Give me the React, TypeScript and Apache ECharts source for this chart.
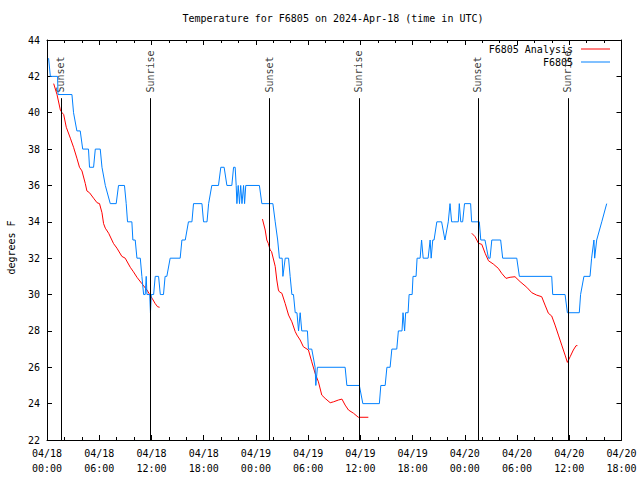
import React, { useEffect, useRef } from 'react';
import * as echarts from 'echarts';

const titleText = 'Temperature for F6805 on 2024-Apr-18 (time in UTC)';
const yAxisName = 'degrees F';
const analysisName = 'F6805 Analysis';
const obsName = 'F6805';
const xStart = '04-18 00:00';
const xEnd = '04-20 18:00';
const yMin = 22;
const yMax = 44;
const yStep = 2;

const sunNames = ['Sunset', 'Sunrise', 'Sunset', 'Sunrise', 'Sunset', 'Sunrise'];
const sunTimes = ['04-18 01:36', '04-18 11:54', '04-19 01:34', '04-19 11:54', '04-20 01:33', '04-20 11:53'];

const obsTimes = [
  '04-18 00:11', '04-18 00:23', '04-18 01:13', '04-18 01:16', '04-18 02:52', '04-18 03:03', '04-18 03:26', '04-18 03:49',
  '04-18 04:06', '04-18 04:46', '04-18 04:53', '04-18 05:21', '04-18 05:33', '04-18 06:07', '04-18 06:19', '04-18 06:42',
  '04-18 07:16', '04-18 07:57', '04-18 08:13', '04-18 08:54', '04-18 09:06', '04-18 09:15', '04-18 09:45', '04-18 09:52',
  '04-18 10:08', '04-18 10:20', '04-18 10:43', '04-18 10:54', '04-18 11:06', '04-18 11:17', '04-18 11:24', '04-18 11:29',
  '04-18 11:36', '04-18 11:48', '04-18 11:53', '04-18 11:59', '04-18 12:04', '04-18 12:15', '04-18 12:26', '04-18 12:49',
  '04-18 13:01', '04-18 13:12', '04-18 13:23', '04-18 13:34', '04-18 13:46', '04-18 14:09', '04-18 15:18', '04-18 15:30',
  '04-18 15:53', '04-18 16:15', '04-18 16:39', '04-18 16:50', '04-18 17:48', '04-18 17:59', '04-18 18:11', '04-18 18:23',
  '04-18 18:34', '04-18 18:56', '04-18 19:42', '04-18 19:58', '04-18 20:21', '04-18 20:40', '04-18 21:14', '04-18 21:26',
  '04-18 21:37', '04-18 21:44', '04-18 21:49', '04-18 21:58', '04-18 22:07', '04-18 22:15', '04-18 22:24', '04-18 22:35',
  '04-18 22:42', '04-18 22:50', '04-19 00:24', '04-19 00:41', '04-19 01:57', '04-19 02:13', '04-19 02:30', '04-19 02:42',
  '04-19 03:01', '04-19 03:06', '04-19 03:22', '04-19 03:45', '04-19 03:56', '04-19 04:08', '04-19 04:19', '04-19 04:31',
  '04-19 04:43', '04-19 04:54', '04-19 05:05', '04-19 05:16', '04-19 05:55', '04-19 06:02', '04-19 06:25', '04-19 06:48',
  '04-19 06:53', '04-19 07:04', '04-19 10:15', '04-19 10:27', '04-19 11:53', '04-19 12:17', '04-19 14:11', '04-19 14:21',
  '04-19 14:51', '04-19 15:03', '04-19 15:25', '04-19 15:37', '04-19 16:11', '04-19 16:22', '04-19 16:47', '04-19 16:54',
  '04-19 17:05', '04-19 17:12', '04-19 17:29', '04-19 17:36', '04-19 17:57', '04-19 18:03', '04-19 18:24', '04-19 18:31',
  '04-19 18:52', '04-19 19:02', '04-19 19:13', '04-19 19:47', '04-19 20:01', '04-19 20:08', '04-19 20:19', '04-19 20:28',
  '04-19 20:47', '04-19 21:20', '04-19 21:43', '04-19 22:06', '04-19 22:18', '04-19 22:29', '04-19 22:40', '04-19 23:15',
  '04-19 23:22', '04-19 23:32', '04-19 23:45', '04-19 23:58', '04-20 00:40', '04-20 00:47', '04-20 01:40', '04-20 01:50',
  '04-20 02:19', '04-20 02:43', '04-20 02:54', '04-20 03:06', '04-20 04:07', '04-20 04:21', '04-20 05:58', '04-20 06:16',
  '04-20 09:59', '04-20 10:06', '04-20 11:31', '04-20 11:47', '04-20 13:09', '04-20 13:18', '04-20 13:41', '04-20 14:23',
  '04-20 14:34', '04-20 14:50', '04-20 14:55', '04-20 15:09', '04-20 15:44', '04-20 16:18',
];
const obsValues = [
  43, 42, 42, 41, 41, 40, 39, 39,
  38, 38, 37, 37, 38, 38, 37, 36,
  35, 35, 36, 36, 35, 34, 34, 33,
  33, 32, 32, 31, 30, 30, 31, 30,
  30, 30, 29, 30, 30, 30, 31, 31,
  30, 30, 30, 31, 31, 32, 32, 33,
  33, 34, 34, 35, 35, 34, 34, 34,
  35, 36, 36, 37, 37, 36, 36, 37,
  37, 36, 35, 36, 35, 36, 35, 36,
  35, 36, 36, 35, 35, 34, 33, 32,
  32, 31, 32, 32, 31, 30, 30, 29,
  29, 28, 29, 28, 28, 27, 27, 26,
  25, 26, 26, 25, 25, 24, 24, 25,
  25, 26, 26, 27, 27, 28, 28, 29,
  28, 29, 29, 30, 30, 31, 31, 32,
  32, 33, 32, 32, 33, 32, 33, 33,
  34, 34, 33, 34, 35, 34, 34, 34,
  35, 34, 34, 35, 35, 34, 34, 33,
  33, 32, 32, 33, 33, 32, 32, 31,
  31, 30, 30, 29, 29, 30, 31, 31,
  32, 33, 32, 33, 34, 35,
];

// null value = gap between analysis runs
const analysisTimes = [
  '04-18 00:46', '04-18 01:09', '04-18 01:32', '04-18 01:44', '04-18 01:55', '04-18 02:13', '04-18 02:41', '04-18 03:03',
  '04-18 03:26', '04-18 03:44', '04-18 04:01', '04-18 04:24', '04-18 04:35', '04-18 04:53', '04-18 05:21', '04-18 05:45',
  '04-18 06:02', '04-18 06:19', '04-18 06:30', '04-18 06:42', '04-18 07:05', '04-18 07:39', '04-18 08:02', '04-18 08:36',
  '04-18 08:59', '04-18 09:34', '04-18 09:56', '04-18 10:20', '04-18 10:54', '04-18 11:29', '04-18 12:04', '04-18 12:26',
  '04-18 12:42', '04-18 12:56', '04-18 18:00',
  '04-19 00:45', '04-19 01:04', '04-19 01:15', '04-19 01:26', '04-19 01:38', '04-19 01:48', '04-19 02:13', '04-19 02:24',
  '04-19 02:35', '04-19 02:42', '04-19 02:59', '04-19 03:22', '04-19 03:45', '04-19 04:08', '04-19 04:31', '04-19 04:43',
  '04-19 05:05', '04-19 05:27', '04-19 06:02', '04-19 06:25', '04-19 06:48', '04-19 07:11', '04-19 07:34', '04-19 07:57',
  '04-19 08:32', '04-19 08:55', '04-19 09:29', '04-19 09:53', '04-19 10:15', '04-19 10:38', '04-19 11:13', '04-19 11:46',
  '04-19 12:55', '04-19 18:00',
  '04-20 00:48', '04-20 01:11', '04-20 01:34', '04-20 01:57', '04-20 02:20', '04-20 02:43', '04-20 03:16', '04-20 03:51',
  '04-20 04:14', '04-20 04:44', '04-20 05:12', '04-20 05:46', '04-20 06:21', '04-20 07:07', '04-20 07:42', '04-20 08:15',
  '04-20 08:50', '04-20 09:13', '04-20 09:36', '04-20 09:59', '04-20 10:22', '04-20 10:45', '04-20 11:08', '04-20 11:31',
  '04-20 11:47', '04-20 12:06', '04-20 12:28', '04-20 12:47', '04-20 12:56',
];
const analysisValues = [
  41.6, 41.0, 40.15, 40.0, 39.9, 39.2, 38.6, 38.1,
  37.5, 37.0, 36.8, 36.1, 35.7, 35.6, 35.3, 35.05,
  35.0, 34.5, 33.9, 33.65, 33.37, 32.8, 32.55, 32.1,
  32.0, 31.5, 31.25, 30.95, 30.6, 30.25, 29.8, 29.5,
  29.33, 29.3, null,
  34.15, 33.55, 33.0, 32.8, 32.45, 32.36, 31.55, 30.8,
  30.25, 30.15, 30.07, 29.5, 28.87, 28.5, 27.96, 27.77,
  27.5, 27.13, 26.95, 26.3, 25.67, 25.2, 24.47, 24.29,
  24.05, 24.1, 24.2, 24.25, 23.92, 23.65, 23.47, 23.25,
  23.25, null,
  33.37, 33.18, 32.82, 32.76, 32.27, 31.86, 31.68, 31.44,
  31.17, 30.89, 30.95, 30.98, 30.71, 30.4, 30.1, 29.97,
  29.88, 29.42, 28.97, 28.82, 28.32, 27.77, 27.22, 26.67,
  26.27, 26.58, 26.95, 27.19, 27.19,
];

const HOUR = 3600 * 1000;
const FONT = 'DejaVu Sans Mono';

function toMs(s: string): number {
  const [md, hm] = s.split(' ');
  const [mo, d] = md.split('-').map(Number);
  const [h, mi] = hm.split(':').map(Number);
  return Date.UTC(2024, mo - 1, d, h, mi);
}
const pad = (n: number) => (n < 10 ? '0' + n : '' + n);
function fmtTime(v: number): string {
  const d = new Date(v);
  return pad(d.getUTCMonth() + 1) + '/' + pad(d.getUTCDate()) + '\n' + pad(d.getUTCHours()) + ':' + pad(d.getUTCMinutes());
}

export default function App() {
  const ref = useRef<HTMLDivElement>(null);
  useEffect(() => {
    if (!ref.current) return;
    const chart = echarts.init(ref.current, null, { renderer: 'svg' });
    const xMin = toMs(xStart);
    const xMax = toMs(xEnd);
    const black = '#000';
    const axisCommon = {
      type: 'value',
      min: xMin,
      max: xMax,
      interval: 6 * HOUR,
      axisLine: { show: true, onZero: false, lineStyle: { color: black, width: 1 } },
      axisTick: { show: true, inside: true, length: 5, lineStyle: { color: black, width: 1 } },
      minorTick: { show: true, splitNumber: 3, length: 3, lineStyle: { color: black, width: 1 } },
      splitLine: { show: false },
    };
    const yCommon = {
      type: 'value',
      min: yMin,
      max: yMax,
      interval: yStep,
      axisLine: { show: true, onZero: false, lineStyle: { color: black, width: 1 } },
      axisTick: { show: true, inside: true, length: 5, lineStyle: { color: black, width: 1 } },
      splitLine: { show: false },
    };
    const sunTop = 40.8;
    const sunLabelY = 41.08;
    const legendCommon = {
      orient: 'vertical',
      align: 'right',
      right: 30,
      padding: 0,
      itemWidth: 29,
      itemHeight: 1,
      icon: 'rect',
      selectedMode: false,
      textStyle: { fontFamily: FONT, fontSize: 10, color: black, lineHeight: 12, padding: [0, 3, 0, 0] },
    };
    chart.setOption({
      animation: false,
      backgroundColor: '#fff',
      textStyle: { fontFamily: FONT, fontSize: 10, color: black },
      title: {
        text: titleText,
        left: 333,
        top: 13,
        padding: 0,
        textAlign: 'center',
        textStyle: { fontFamily: FONT, fontSize: 10, fontWeight: 'normal', color: black },
      },
      legend: [
        { ...legendCommon, data: [analysisName], top: 43 },
        { ...legendCommon, data: [obsName], top: 56 },
      ],
      grid: { left: 47, right: 18.5, top: 40, bottom: 40, containLabel: false, outerBoundsMode: 'none' },
      xAxis: [
        {
          ...axisCommon,
          position: 'bottom',
          axisLabel: {
            show: true,
            formatter: fmtTime,
            margin: 6,
            lineHeight: 15,
            color: black,
            fontFamily: FONT,
            fontSize: 10,
            showMinLabel: true,
            showMaxLabel: true,
          },
        },
        { ...axisCommon, position: 'top', axisLabel: { show: false } },
      ],
      yAxis: [
        {
          ...yCommon,
          position: 'left',
          name: yAxisName,
          nameLocation: 'middle',
          nameGap: 31,
          nameRotate: 90,
          nameTextStyle: { fontFamily: FONT, fontSize: 10, color: black, padding: [0, 15, 0, 0] },
          axisLabel: { show: true, margin: 7, color: black, fontFamily: FONT, fontSize: 10 },
        },
        { ...yCommon, position: 'right', axisLabel: { show: false } },
      ],
      series: [
        {
          name: 'sun',
          type: 'scatter',
          xAxisIndex: 0,
          yAxisIndex: 0,
          silent: true,
          symbolSize: 1,
          itemStyle: { color: 'rgba(0,0,0,0)' },
          data: sunTimes.map((t) => [toMs(t), sunLabelY]),
          label: {
            show: true,
            formatter: (p: any) => sunNames[p.dataIndex],
            position: [0, 0],
            rotate: 90,
            align: 'left',
            verticalAlign: 'middle',
            fontFamily: FONT,
            fontSize: 10,
            color: black,
          },
          markLine: {
            silent: true,
            symbol: ['none', 'none'],
            label: { show: false },
            lineStyle: { color: black, width: 1, type: 'solid' },
            data: sunTimes.map((t) => [{ coord: [toMs(t), yMin] }, { coord: [toMs(t), sunTop] }]),
          },
          z: 1,
        },
        {
          name: analysisName,
          type: 'line',
          xAxisIndex: 0,
          yAxisIndex: 0,
          color: '#ff0000',
          symbol: 'none',
          showSymbol: false,
          connectNulls: false,
          lineStyle: { color: '#ff0000', width: 1 },
          data: analysisTimes.map((t, i) => [toMs(t), analysisValues[i] === null ? '-' : analysisValues[i]]),
          z: 2,
        },
        {
          name: obsName,
          type: 'line',
          xAxisIndex: 0,
          yAxisIndex: 0,
          color: '#0080ff',
          symbol: 'none',
          showSymbol: false,
          lineStyle: { color: '#0080ff', width: 1 },
          data: obsTimes.map((t, i) => [toMs(t), obsValues[i]]),
          z: 3,
        },
      ],
    });
    return () => chart.dispose();
  }, []);
  return <div ref={ref} style={{ position: 'fixed', left: 0, top: 0, width: 640, height: 480 }} />;
}
